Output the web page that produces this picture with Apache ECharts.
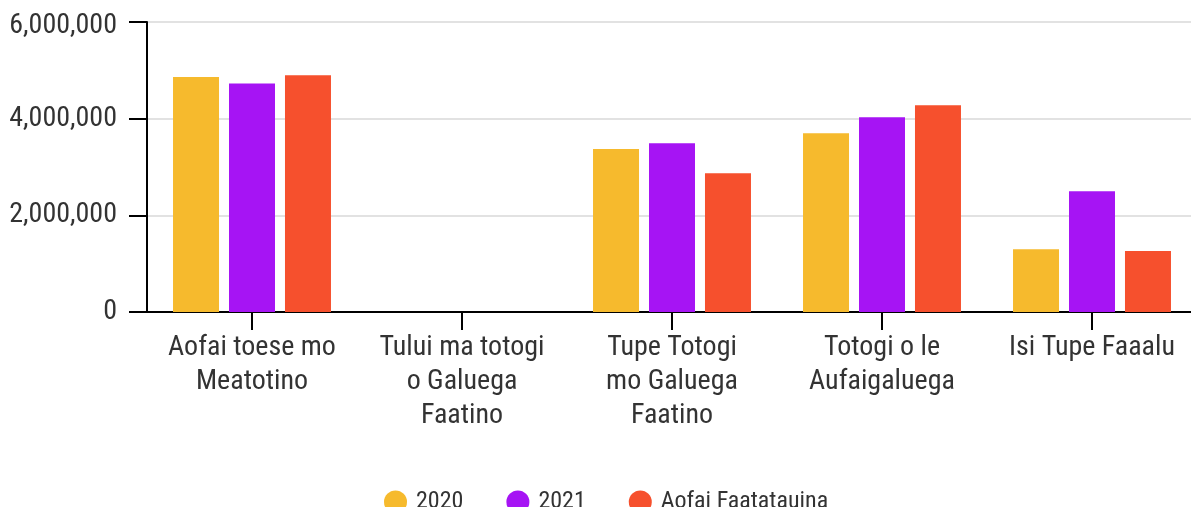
<!DOCTYPE html>
<html><head><meta charset="utf-8">
<script src="https://cdn.jsdelivr.net/npm/echarts@6/dist/echarts.min.js"></script>
<style>html,body{margin:0;padding:0;background:#fff}#c{width:1191px;height:507px}</style>
</head><body><div id="c"></div>
<script>
const categories = ["Aofai toese mo\nMeatotino", "Tului ma totogi\no Galuega\nFaatino", "Tupe Totogi\nmo Galuega\nFaatino", "Totogi o le\nAufaigaluega", "Isi Tupe Faaalu"];
const seriesNames = ["2020", "2021", "Aofai Faatatauina"];
const values2020 = [4860000, null, 3370000, 3700000, 1300000];
const values2021 = [4730000, null, 3490000, 4030000, 2500000];
const valuesTotal = [4900000, null, 2870000, 4280000, 1260000];
const yTicks = [0, 2000000, 4000000, 6000000];
const colors = ["#F6BA2D", "#A614F4", "#F6502D"];
const FONT = '"Roboto Condensed", Roboto, sans-serif';
const yMax = yTicks[yTicks.length - 1];

const chart = echarts.init(document.getElementById('c'), null, {renderer: 'canvas'});
const mk = (name, data, i) => ({
  name, type: 'bar', data, barWidth: 46, barGap: '21.7%',
  itemStyle: {color: colors[i]}
});
chart.setOption({
  animation: false,
  textStyle: {fontFamily: FONT},
  grid: {left: 147, top: 22, width: 1050, bottom: 195, containLabel: false, outerBoundsMode: 'none'},
  legend: {
    left: 379, top: 485, icon: 'circle', itemWidth: 23, itemHeight: 23, itemGap: 43,
    textStyle: {fontFamily: FONT, fontSize: 24, color: '#333', padding: [0, 0, 0, 4]},
    data: seriesNames
  },
  xAxis: {
    type: 'category', data: categories,
    axisLine: {lineStyle: {color: '#000', width: 2}},
    axisTick: {show: true, alignWithLabel: true, length: 18, lineStyle: {color: '#000', width: 2}},
    axisLabel: {fontFamily: FONT, fontSize: 28, color: '#333', lineHeight: 34, margin: 19, interval: 0}
  },
  yAxis: {
    type: 'value', min: yTicks[0], max: yMax, interval: yTicks[1] - yTicks[0],
    axisLine: {show: true, lineStyle: {color: '#000', width: 2}},
    axisTick: {show: true, length: 18, lineStyle: {color: '#000', width: 2}},
    splitLine: {lineStyle: {color: '#e2e2e2', width: 2}},
    axisLabel: {fontFamily: FONT, fontSize: 28, color: '#333', margin: 30,
      formatter: v => v === yMax ? '{top|' + v.toLocaleString('en-US') + '}' : v.toLocaleString('en-US'),
      rich: {top: {fontFamily: FONT, fontSize: 28, color: '#333', padding: [8, 0, 0, 0]}}
    }
  },
  series: [mk(seriesNames[0], values2020, 0), mk(seriesNames[1], values2021, 1), mk(seriesNames[2], valuesTotal, 2)]
});
</script></body></html>
